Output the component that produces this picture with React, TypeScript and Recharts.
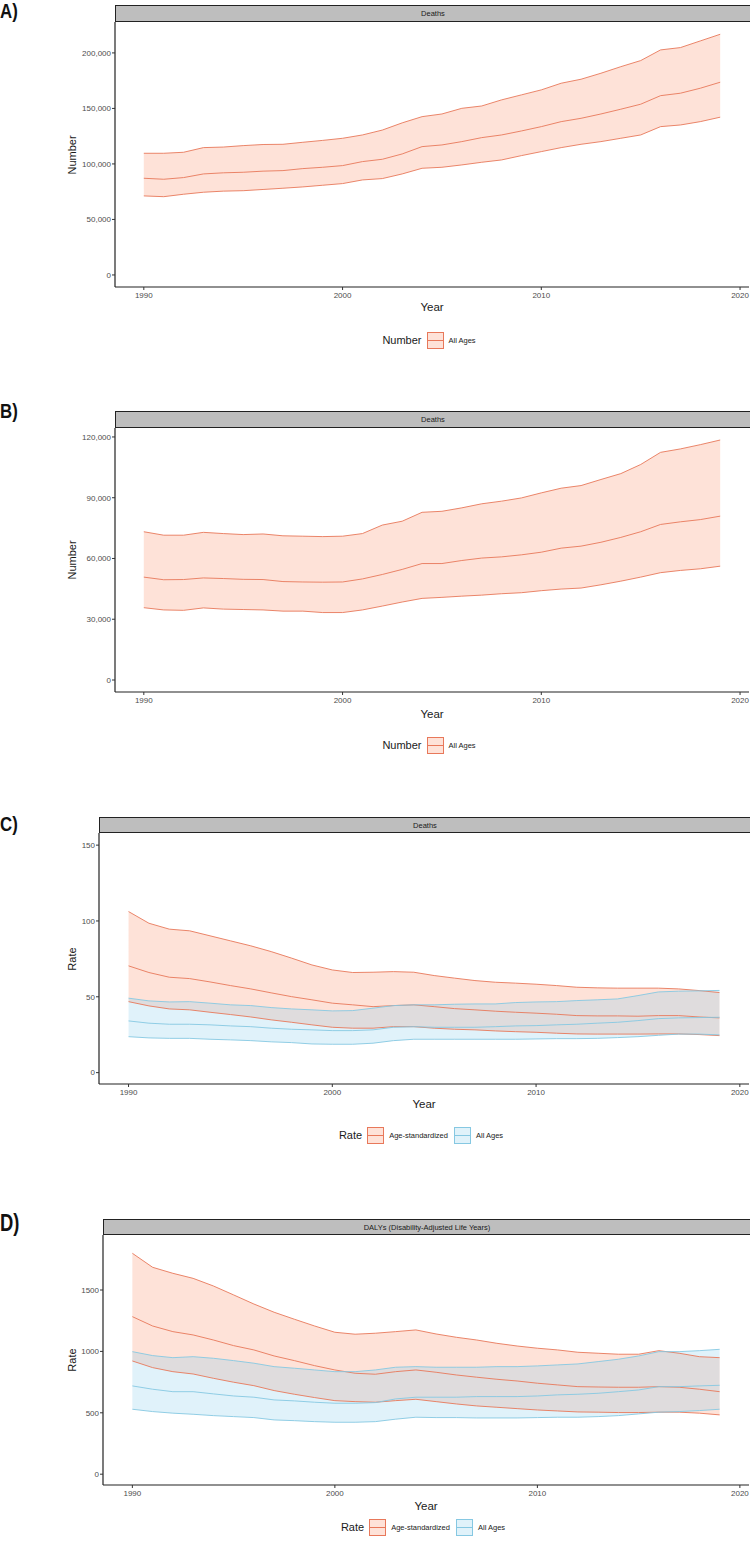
import React from "react";
import { ComposedChart, Area, Line, XAxis, YAxis } from "recharts";

// years 1990-2019
const years = [
  1990, 1991, 1992, 1993, 1994, 1995, 1996, 1997, 1998, 1999,
  2000, 2001, 2002, 2003, 2004, 2005, 2006, 2007, 2008, 2009,
  2010, 2011, 2012, 2013, 2014, 2015, 2016, 2017, 2018, 2019,
];
const xTicks = [1990, 2000, 2010, 2020];

// A) deaths, number, all ages
const aUpper = [
  109600, 109600, 110500, 114700, 115200, 116500, 117500, 117700, 119500, 121200,
  123100, 126100, 130500, 137000, 142600, 145000, 150100, 152200, 157700, 162200,
  166700, 172700, 176300, 181700, 187600, 193100, 202700, 204800, 210800, 216800,
];
const aMean = [
  87100, 86200, 87700, 91000, 92000, 92500, 93500, 94000, 95800, 97000,
  98500, 102100, 104200, 109000, 115600, 117100, 120100, 123700, 126100, 129700,
  133600, 138100, 141100, 145000, 149300, 153800, 161500, 163700, 168200, 173600,
];
const aLower = [
  71200, 70500, 72700, 74500, 75500, 75900, 77000, 78100, 79300, 80800,
  82300, 85600, 86800, 91000, 96100, 97000, 99100, 101500, 103600, 107500,
  111100, 114700, 117700, 120100, 123100, 126100, 133600, 135100, 138100, 142100,
];
const aTicks = [0, 50000, 100000, 150000, 200000];

// B) deaths, number, all ages
const bUpper = [
  73200, 71500, 71500, 72900, 72300, 71800, 72100, 71200, 71000, 70800,
  71000, 72300, 76500, 78400, 82800, 83300, 85000, 87000, 88300, 89900,
  92400, 94700, 96000, 99000, 101900, 106400, 112400, 114100, 116200, 118500,
];
const bMean = [
  50800, 49500, 49600, 50400, 50100, 49700, 49600, 48600, 48400, 48300,
  48400, 49900, 52100, 54600, 57500, 57500, 59000, 60200, 60800, 61800,
  63100, 65100, 66100, 68000, 70400, 73200, 76800, 78100, 79200, 80900,
];
const bLower = [
  35700, 34600, 34400, 35600, 35000, 34800, 34600, 34000, 34000, 33300,
  33300, 34600, 36500, 38500, 40300, 40800, 41400, 41900, 42600, 43100,
  44100, 44900, 45400, 47000, 48800, 50800, 53000, 54100, 54900, 56200,
];
const bTicks = [0, 30000, 60000, 90000, 120000];

// C) deaths, rate
const cStdUpper = [
  106.2, 98.5, 94.6, 93.5, 90.2, 86.9, 83.6, 79.8, 75.5, 71.0,
  67.7, 66.0, 66.2, 66.6, 66.2, 64.0, 62.3, 60.7, 59.6, 59.0,
  58.3, 57.4, 56.3, 55.9, 55.7, 55.7, 55.7, 55.2, 54.1, 52.8,
];
const cStdMean = [
  70.4, 66.0, 62.9, 62.0, 59.8, 57.4, 55.2, 52.6, 50.1, 48.0,
  45.8, 44.7, 43.5, 44.2, 44.7, 43.5, 42.2, 41.4, 40.5, 39.8,
  39.2, 38.5, 37.6, 37.4, 37.4, 37.2, 37.6, 37.6, 36.7, 36.1,
];
const cStdLower = [
  46.8, 44.0, 42.0, 41.4, 39.8, 38.3, 36.7, 34.8, 33.2, 31.5,
  29.9, 29.3, 29.3, 30.3, 30.3, 29.3, 28.6, 28.2, 27.5, 27.0,
  26.6, 26.0, 25.5, 25.4, 25.4, 25.4, 25.5, 25.5, 25.1, 24.4,
];
const cAllUpper = [
  49.1, 47.3, 46.6, 46.8, 45.8, 44.7, 44.2, 42.9, 42.0, 41.4,
  40.7, 40.9, 42.5, 44.2, 44.7, 44.7, 45.1, 45.3, 45.3, 46.2,
  46.6, 46.8, 47.5, 48.0, 48.6, 50.8, 53.2, 53.7, 53.9, 54.2,
];
const cAllMean = [
  34.1, 32.6, 31.9, 31.9, 31.5, 30.8, 30.3, 29.3, 28.6, 28.2,
  27.7, 27.7, 28.2, 29.9, 30.3, 29.9, 29.9, 29.9, 30.3, 30.8,
  31.0, 31.5, 31.9, 32.6, 33.2, 34.3, 35.6, 36.1, 36.3, 36.5,
];
const cAllLower = [
  23.7, 22.9, 22.6, 22.6, 22.0, 21.6, 21.1, 20.3, 19.8, 18.9,
  18.7, 18.7, 19.4, 21.1, 22.0, 22.0, 22.0, 22.0, 22.0, 22.0,
  22.2, 22.4, 22.4, 22.6, 23.1, 23.7, 24.6, 25.4, 25.4, 24.9,
];
const cTicks = [0, 50, 100, 150];

// D) DALYs, rate
const dStdUpper = [
  1799, 1685, 1636, 1595, 1533, 1460, 1386, 1319, 1262, 1207,
  1156, 1140, 1148, 1161, 1175, 1142, 1115, 1093, 1066, 1044,
  1026, 1012, 993, 985, 977, 977, 1006, 985, 957, 949,
];
const dStdMean = [
  1283, 1207, 1161, 1134, 1093, 1047, 1012, 963, 925, 884,
  849, 822, 814, 835, 849, 830, 808, 790, 773, 759,
  741, 727, 713, 710, 708, 708, 713, 708, 692, 672,
];
const dStdLower = [
  922, 868, 835, 816, 781, 749, 721, 681, 651, 624,
  599, 591, 586, 599, 610, 591, 572, 556, 545, 534,
  523, 515, 507, 505, 502, 502, 505, 505, 497, 483,
];
const dAllUpper = [
  998, 966, 949, 957, 944, 925, 904, 876, 863, 849,
  835, 835, 849, 871, 876, 871, 871, 871, 876, 876,
  882, 890, 898, 917, 936, 963, 998, 998, 1006, 1017,
];
const dAllMean = [
  719, 692, 672, 672, 654, 637, 627, 605, 597, 586,
  578, 578, 583, 613, 627, 627, 627, 632, 632, 632,
  637, 646, 651, 659, 672, 686, 713, 713, 719, 724,
];
const dAllLower = [
  529, 510, 497, 488, 477, 469, 461, 442, 436, 428,
  423, 423, 428, 448, 464, 461, 461, 458, 458, 458,
  461, 464, 464, 469, 477, 491, 505, 510, 518, 529,
];
const dTicks = [0, 500, 1000, 1500];

const ORANGE = "#E8785A";
const ORANGE_FILL = "#FC8D62";
const BLUE = "#86C8E2";
const BLUE_FILL = "#83CBEB";
const FONT = "'Liberation Sans', Arial, sans-serif";

type Series = {
  name: string;
  upper: number[];
  mean: number[];
  lower: number[];
  line: string;
  fill: string;
};

type PanelProps = {
  label: string;
  labelSize: number;
  labelTop: number;
  strip: string;
  stripTop: number;
  plotTop: number;
  plotBottom: number;
  plotLeft: number;
  yTitle: string;
  yDomain: [number, number];
  yTicks: number[];
  comma: boolean;
  yearY: number;
  legendY: number;
  legendTitle: string;
  series: Series[];
};

const PLOT_RIGHT = 749;

function Panel(p: PanelProps) {
  const rows = years.map((year, i) => {
    const row: any = { year };
    p.series.forEach((s, k) => {
      row["r" + k] = [s.lower[i], s.upper[i]];
      row["u" + k] = s.upper[i];
      row["m" + k] = s.mean[i];
      row["l" + k] = s.lower[i];
    });
    return row;
  });
  const plotH = p.plotBottom - p.plotTop;
  const center = (p.plotLeft + PLOT_RIGHT) / 2;
  const fmt = (v: number) => (p.comma ? v.toLocaleString("en-US") : String(v));

  return (
    <>
      <div
        style={{
          position: "absolute",
          left: 0,
          top: p.labelTop,
          fontFamily: "'Liberation Sans Narrow', 'Liberation Sans', Arial, sans-serif",
          fontWeight: 700,
          fontSize: p.labelSize,
          lineHeight: 1,
          color: "#111",
          transform: "scaleX(0.8)",
          transformOrigin: "left top",
        }}
      >
        {p.label}
      </div>
      <div
        style={{
          position: "absolute",
          left: p.plotLeft,
          top: p.stripTop,
          width: PLOT_RIGHT - p.plotLeft,
          height: p.plotTop - p.stripTop - 2,
          background: "#bebebe",
          border: "1px solid #222",
          fontSize: 7.5,
          color: "#1a1a1a",
          display: "flex",
          alignItems: "center",
          justifyContent: "center",
        }}
      >
        {p.strip}
      </div>
      <div style={{ position: "absolute", left: 0, top: p.plotTop }}>
        <ComposedChart
          width={750}
          height={plotH + 24}
          data={rows}
          margin={{ top: 0, right: 750 - PLOT_RIGHT, left: 0, bottom: 0 }}
        >
          <XAxis
            type="number"
            dataKey="year"
            domain={[1988.55, 2020.45]}
            ticks={xTicks}
            allowDataOverflow
            height={24}
            tickSize={3}
            tickMargin={2}
            tick={{ fontSize: 8, fill: "#4d4d4d" }}
            tickLine={{ stroke: "#333" }}
            axisLine={{ stroke: "#222", strokeWidth: 1.2 }}
          />
          <YAxis
            type="number"
            domain={p.yDomain}
            ticks={p.yTicks}
            allowDataOverflow
            width={p.plotLeft}
            tickSize={3}
            tickMargin={1}
            tickFormatter={fmt}
            tick={{ fontSize: 8, fill: "#4d4d4d" }}
            tickLine={{ stroke: "#333" }}
            axisLine={{ stroke: "#222", strokeWidth: 1.2 }}
          />
          {p.series.map((s, k) => (
            <Area
              key={"a" + k}
              type="linear"
              dataKey={"r" + k}
              stroke="none"
              fill={s.fill}
              fillOpacity={0.25}
              isAnimationActive={false}
              activeDot={false}
            />
          ))}
          {p.series.map((s, k) =>
            ["u", "m", "l"].map((key) => (
              <Line
                key={key + k}
                type="linear"
                dataKey={key + k}
                stroke={s.line}
                strokeWidth={0.9}
                dot={false}
                activeDot={false}
                isAnimationActive={false}
              />
            ))
          )}
        </ComposedChart>
      </div>
      <div
        style={{
          position: "absolute",
          left: 72 - 40,
          top: (p.plotTop + p.plotBottom) / 2 - 7,
          width: 80,
          height: 14,
          lineHeight: "14px",
          textAlign: "center",
          fontSize: 11,
          color: "#1a1a1a",
          transform: "rotate(-90deg)",
        }}
      >
        {p.yTitle}
      </div>
      <div
        style={{
          position: "absolute",
          left: center - 40,
          top: p.yearY - 7,
          width: 80,
          height: 14,
          lineHeight: "14px",
          textAlign: "center",
          fontSize: 11.5,
          color: "#1a1a1a",
        }}
      >
        Year
      </div>
      <div
        style={{
          position: "absolute",
          left: center - 200,
          top: p.legendY - 9,
          width: 400,
          height: 18,
          display: "flex",
          alignItems: "center",
          justifyContent: "center",
          color: "#1a1a1a",
        }}
      >
        <span style={{ fontSize: 11, marginRight: 5 }}>{p.legendTitle}</span>
        {p.series.map((s) => (
          <React.Fragment key={s.name}>
            <span
              style={{
                position: "relative",
                display: "inline-block",
                width: 15,
                height: 15,
                border: "1px solid " + s.line,
                background: s.fill + "40",
                marginRight: 5,
              }}
            >
              <span
                style={{
                  position: "absolute",
                  left: 0,
                  right: 0,
                  top: 7,
                  height: 1,
                  background: s.line,
                }}
              />
            </span>
            <span style={{ fontSize: 7.5, marginRight: 6 }}>{s.name}</span>
          </React.Fragment>
        ))}
      </div>
    </>
  );
}

export default function App() {
  return (
    <div
      style={{
        position: "absolute",
        left: 0,
        top: 0,
        width: 750,
        height: 1544,
        background: "#fff",
        fontFamily: FONT,
      }}
    >
      <Panel
        label="A)"
        labelSize={21}
        labelTop={0}
        strip="Deaths"
        stripTop={5}
        plotTop={22}
        plotBottom={287}
        plotLeft={115}
        yTitle="Number"
        yDomain={[-10850, 227850]}
        yTicks={aTicks}
        comma
        yearY={307}
        legendY={340}
        legendTitle="Number"
        series={[{ name: "All Ages", upper: aUpper, mean: aMean, lower: aLower, line: ORANGE, fill: ORANGE_FILL }]}
      />
      <Panel
        label="B)"
        labelSize={21}
        labelTop={400}
        strip="Deaths"
        stripTop={411}
        plotTop={428}
        plotBottom={692}
        plotLeft={115}
        yTitle="Number"
        yDomain={[-5925, 124425]}
        yTicks={bTicks}
        comma
        yearY={714}
        legendY={745}
        legendTitle="Number"
        series={[{ name: "All Ages", upper: bUpper, mean: bMean, lower: bLower, line: ORANGE, fill: ORANGE_FILL }]}
      />
      <Panel
        label="C)"
        labelSize={21}
        labelTop={813}
        strip="Deaths"
        stripTop={817}
        plotTop={833}
        plotBottom={1084}
        plotLeft={99}
        yTitle="Rate"
        yDomain={[-7.5, 158]}
        yTicks={cTicks}
        comma={false}
        yearY={1104}
        legendY={1135}
        legendTitle="Rate"
        series={[
          { name: "Age-standardized", upper: cStdUpper, mean: cStdMean, lower: cStdLower, line: ORANGE, fill: ORANGE_FILL },
          { name: "All Ages", upper: cAllUpper, mean: cAllMean, lower: cAllLower, line: BLUE, fill: BLUE_FILL },
        ]}
      />
      <Panel
        label="D)"
        labelSize={23}
        labelTop={1212}
        strip="DALYs (Disability-Adjusted Life Years)"
        stripTop={1219}
        plotTop={1235}
        plotBottom={1485}
        plotLeft={103}
        yTitle="Rate"
        yDomain={[-88, 1948]}
        yTicks={dTicks}
        comma={false}
        yearY={1506}
        legendY={1527}
        legendTitle="Rate"
        series={[
          { name: "Age-standardized", upper: dStdUpper, mean: dStdMean, lower: dStdLower, line: ORANGE, fill: ORANGE_FILL },
          { name: "All Ages", upper: dAllUpper, mean: dAllMean, lower: dAllLower, line: BLUE, fill: BLUE_FILL },
        ]}
      />
    </div>
  );
}
